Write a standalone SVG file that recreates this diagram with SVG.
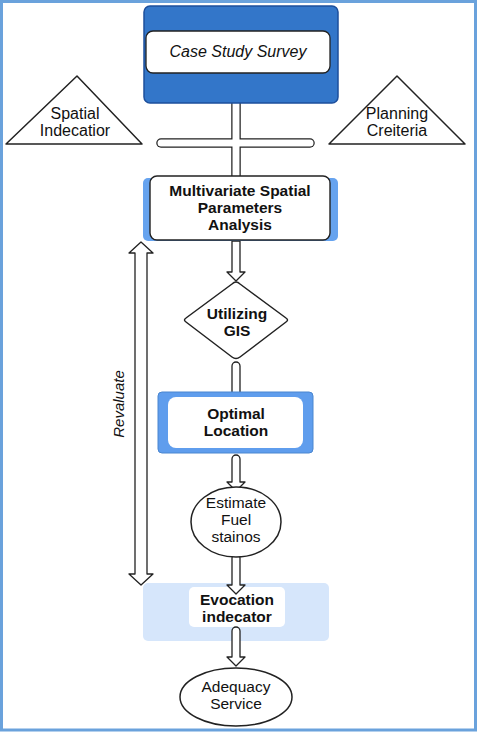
<svg xmlns="http://www.w3.org/2000/svg" width="477" height="732" viewBox="0 0 477 732">
<style>
text{font-family:"Liberation Sans",Arial,sans-serif;fill:#111;text-anchor:middle}
.b{font-weight:bold;font-size:15.5px}
.n{font-size:15.5px}
.it{font-style:italic;font-size:16px}
.pipe{fill:#fff;stroke:#222;stroke-width:1.3;stroke-linejoin:round}
.shape{fill:#fff;stroke:#222;stroke-width:1.5;stroke-linejoin:round}
</style>
<rect x="1.5" y="1.5" width="474" height="728.5" fill="#fff" stroke="#6aa2dc" stroke-width="3"/>
<g id="evocation">
<rect x="143" y="583" width="186" height="58" rx="5" fill="#d6e6fb"/>
<rect x="189" y="587" width="96" height="40" rx="5" fill="#fff"/>
<text class="b" x="237" y="605">Evocation</text>
<text class="b" x="237" y="622">indecator</text>
</g>
<g id="connectors">
<g id="cross">
<line x1="161" y1="143" x2="310" y2="143" stroke="#222" stroke-width="9.5" stroke-linecap="round"/>
<line x1="236" y1="100" x2="236" y2="181" stroke="#222" stroke-width="9.5" stroke-linecap="round"/>
<line x1="161" y1="143" x2="310" y2="143" stroke="#fff" stroke-width="7" stroke-linecap="round"/>
<line x1="236" y1="100" x2="236" y2="181" stroke="#fff" stroke-width="7" stroke-linecap="round"/>
</g>
<path class="pipe" d="M232,241 L240,241 L240,272 L245,272 L236,281 L227,272 L232,272 Z"/>
<path class="pipe" d="M232,366 A4,4 0 0 1 240,366 L240,394 L232,394 Z"/>
<path class="pipe" d="M232,459 A4,4 0 0 1 240,459 L240,482 L245,482 L236,491 L227,482 L232,482 Z"/>
<path class="pipe" d="M232,558 A4,4 0 0 1 240,558 L240,585 L245,585 L236,594 L227,585 L232,585 Z"/>
<path class="pipe" d="M232,631 A4,4 0 0 1 240,631 L240,657 L245,657 L236,666 L227,657 L232,657 Z"/>
<path id="revaluate-arrow" class="pipe" d="M141,242 L153,253 L147,253 L147,574 L153,574 L141,585 L129,574 L135,574 L135,253 L129,253 Z"/>
<text class="it" style="font-size:15px" transform="translate(124,404) rotate(-90)">Revaluate</text>
</g>
<g id="case-study">
<rect x="144" y="6" width="194" height="97" rx="6" fill="#3376c9" stroke="#1d4f9c" stroke-width="1.5"/>
<rect x="146" y="31" width="184" height="42" rx="7" fill="#fff" stroke="#222" stroke-width="1.3"/>
<text class="it" x="238" y="57">Case Study Survey</text>
</g>
<g id="spatial-indicator">
<path class="shape" d="M77,76 L142,144 L6,144 Z"/>
<text class="n" x="75" y="119" style="font-size:16px">Spatial</text>
<text class="n" x="75" y="136" style="font-size:16px">Indecatior</text>
</g>
<g id="planning-criteria">
<path class="shape" d="M397,76 L465,144 L329,144 Z"/>
<text class="n" x="397" y="119" style="font-size:16px">Planning</text>
<text class="n" x="397" y="136" style="font-size:16px">Creiteria</text>
</g>
<g id="multivariate">
<rect x="143" y="178" width="195" height="63" rx="5" fill="#66a3ef"/>
<rect x="150" y="176" width="180" height="64" rx="7" fill="#fff" stroke="#222" stroke-width="1.4"/>
<text class="b" x="240" y="196">Multivariate Spatial</text>
<text class="b" x="240" y="213">Parameters</text>
<text class="b" x="240" y="230">Analysis</text>
</g>
<g id="gis">
<path class="shape" d="M236,282 Q238,282 240,284 L286,318 Q289,320 286,322 L240,357 Q236,360 232,357 L186,322 Q183,320 186,318 L232,284 Q234,282 236,282 Z"/>
<text class="b" x="237" y="319">Utilizing</text>
<text class="b" x="237" y="336">GIS</text>
</g>
<g id="optimal">
<rect x="158" y="392" width="155" height="61" rx="4" fill="#5f9ded" stroke="#4a86d0" stroke-width="1"/>
<rect x="168" y="397" width="135" height="51" rx="8" fill="#fff"/>
<text class="b" x="236" y="419">Optimal</text>
<text class="b" x="236" y="436">Location</text>
</g>
<g id="estimate">
<ellipse class="shape" cx="236" cy="522" rx="45" ry="35"/>
<text class="n" x="236" y="508">Estimate</text>
<text class="n" x="236" y="525">Fuel</text>
<text class="n" x="236" y="542">stainos</text>
</g>
<g id="adequacy">
<ellipse class="shape" cx="236" cy="697" rx="56" ry="29"/>
<text class="n" x="236" y="692">Adequacy</text>
<text class="n" x="236" y="709">Service</text>
</g>
</svg>
